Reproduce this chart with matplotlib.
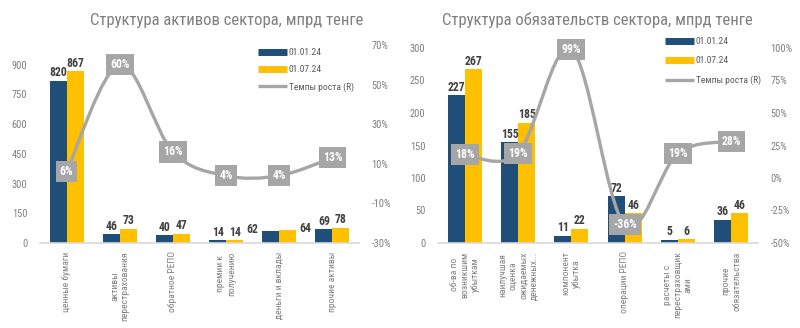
import matplotlib
matplotlib.use("Agg")
import matplotlib.pyplot as plt
from matplotlib.path import Path
from matplotlib.patches import PathPatch
from matplotlib.lines import Line2D
from matplotlib.ticker import FuncFormatter
import numpy as np

plt.rcParams['font.family'] = ['Roboto Condensed', 'PT Sans Narrow', 'DejaVu Sans']

# ---------------- data ----------------
assets_cats = ["ценные бумаги", "активы\nперестрахования", "обратное РЕПО",
               "премии к\nполучению", "деньги и вклады", "прочие активы"]
assets_jan = [820, 46, 40, 14, 62, 69]
assets_jul = [867, 73, 47, 14, 64, 78]
assets_growth = [6, 60, 16, 4, 4, 13]

liab_cats = ["об-ва по\nвозникшим\nубыткам", "наилучшая\nоценка\nожидаемых\nденежных...",
             "компонент\nубытка", "операции РЕПО", "расчеты с\nперестраховщик\nами",
             "прочие\nобязательства"]
liab_jan = [227, 155, 11, 72, 5, 36]
liab_jul = [267, 185, 22, 46, 6, 46]
liab_growth = [18, 19, 99, -36, 19, 28]

series_names = ["01.01.24", "01.07.24", "Темпы роста (R)"]
titles = ["Структура активов сектора, мпрд тенге", "Структура обязательств сектора, мпрд тенге"]

C_BLUE = "#1f4e79"
C_YEL = "#ffc000"
C_GREY = "#a6a6a6"
C_TICK = "#7f7f7f"
C_LBL = "#404040"


def smooth_path(xs, ys):
    pts = np.column_stack([xs, ys]).astype(float)
    n = len(pts)
    verts = [pts[0]]
    codes = [Path.MOVETO]
    for i in range(n - 1):
        p0 = pts[i - 1] if i > 0 else pts[i]
        p1 = pts[i]
        p2 = pts[i + 1]
        p3 = pts[i + 2] if i + 2 < n else pts[i + 1]
        c1 = p1 + (p2 - p0) / 6.0
        c2 = p2 - (p3 - p1) / 6.0
        verts += [c1, c2, p2]
        codes += [Path.CURVE4] * 3
    return Path(verts, codes)


fig = plt.figure(figsize=(8, 3.28), dpi=100)


def draw(rect, cats, jan, jul, growth, ylim, yticks, rlim, rticks, title, title_x,
         legend_xy, legend_spacing, side_idx=()):
    ax = fig.add_axes(rect)
    x = np.arange(len(cats))
    w = 0.32
    ax.bar(x - w / 2, jan, w, color=C_BLUE, zorder=2)
    ax.bar(x + w / 2, jul, w, color=C_YEL, zorder=2)
    ax.set_xlim(-0.5, len(cats) - 0.5)
    ax.set_ylim(*ylim)
    ax.set_yticks(yticks)
    for s in ["top", "right", "left"]:
        ax.spines[s].set_visible(False)
    ax.spines["bottom"].set_color("#d9d9d9")
    ax.spines["bottom"].set_linewidth(1.2)
    ax.tick_params(axis="y", length=0, labelsize=7.5, colors=C_TICK, pad=9)
    ax.set_xticks(x)
    ax.set_xticklabels(cats, rotation=90, va="top", ha="center",
                       multialignment="center", fontsize=6.8, color=C_TICK)
    ax.tick_params(axis="x", length=0, pad=6)

    for i in x:
        if i in side_idx:
            ax.annotate(f"{jan[i]}", (i - w, jan[i]), xytext=(-3, 1), textcoords="offset points",
                        ha="right", va="center", fontsize=8.5, fontweight="bold", color=C_LBL)
            ax.annotate(f"{jul[i]}", (i + w, jul[i]), xytext=(2, 1), textcoords="offset points",
                        ha="left", va="center", fontsize=8.5, fontweight="bold", color=C_LBL)
        else:
            ax.annotate(f"{jan[i]}", (i - w / 2, jan[i]), xytext=(0, 1), textcoords="offset points",
                        ha="center", va="bottom", fontsize=8.5, fontweight="bold", color=C_LBL)
            ax.annotate(f"{jul[i]}", (i + w / 2, jul[i]), xytext=(0, 1), textcoords="offset points",
                        ha="center", va="bottom", fontsize=8.5, fontweight="bold", color=C_LBL)

    ax2 = ax.twinx()
    ax2.set_ylim(*rlim)
    ax2.set_yticks(rticks)
    ax2.yaxis.set_major_formatter(FuncFormatter(lambda v, p: f"{v:.0f}%"))
    for s in ["top", "right", "left", "bottom"]:
        ax2.spines[s].set_visible(False)
    ax2.tick_params(axis="y", length=0, labelsize=7.5, colors=C_TICK, pad=9)
    path = smooth_path(x, growth)
    ax2.add_patch(PathPatch(path, facecolor="none", edgecolor=C_GREY, lw=2.4, zorder=3,
                            capstyle="round", joinstyle="round"))
    for i in x:
        ax2.text(i, growth[i], f"{growth[i]}%", ha="center", va="center", fontsize=8.5,
                 fontweight="bold", color="white", zorder=5,
                 bbox=dict(boxstyle="square,pad=0.35", facecolor=C_GREY, edgecolor="none"))

    fig.text(title_x, 1 - 20 / 328, title, ha="center", va="center", fontsize=12, color="#7f7f7f")

    handles = [Line2D([], [], color=C_BLUE, lw=5, solid_capstyle="butt"),
               Line2D([], [], color=C_YEL, lw=5, solid_capstyle="butt"),
               Line2D([], [], color=C_GREY, lw=2.4, solid_capstyle="butt")]
    leg = fig.legend(handles, series_names, loc="upper left",
                     bbox_to_anchor=(legend_xy[0] / 800, 1 - legend_xy[1] / 328),
                     bbox_transform=fig.transFigure, frameon=False, fontsize=6.8,
                     handlelength=3.1, handletextpad=0.15, labelspacing=legend_spacing,
                     borderpad=0, borderaxespad=0)
    for t in leg.get_texts():
        t.set_color("#595959")
    return ax, ax2


draw([40 / 800, 85 / 328, 319 / 800, 198 / 328], assets_cats, assets_jan, assets_jul,
     assets_growth, (0, 1000), np.arange(0, 901, 150), (-30, 70), np.arange(-30, 71, 20),
     titles[0], 227 / 800, (258, 48), 0.85, side_idx=(4,))

draw([438 / 800, 85 / 328, 320 / 800, 195 / 328], liab_cats, liab_jan, liab_jul,
     liab_growth, (0, 300), np.arange(0, 301, 50), (-50, 100), np.arange(-50, 101, 25),
     titles[1], 597 / 800, (665, 37), 1.1)

fig.savefig("out.png", dpi=100)
